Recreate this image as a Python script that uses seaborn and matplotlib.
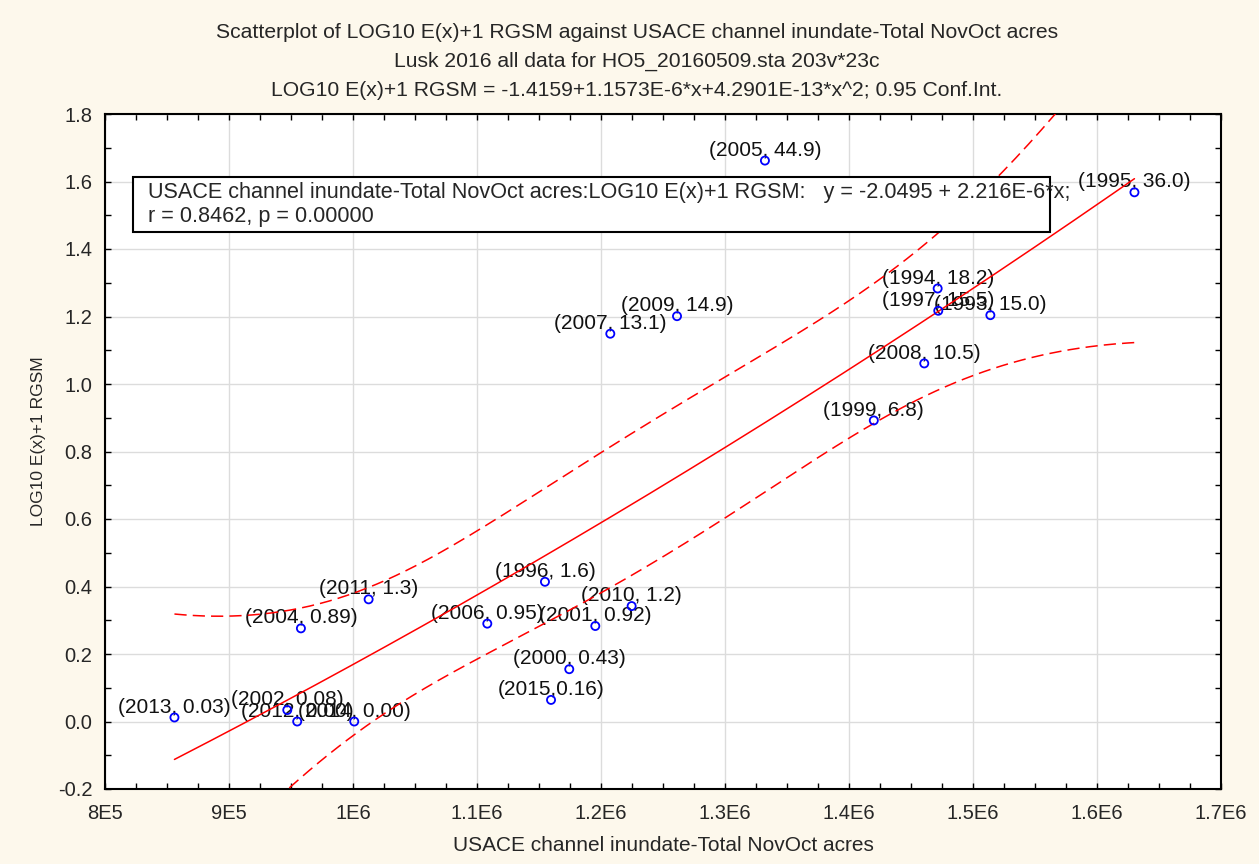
import numpy as np
import pandas as pd
import matplotlib
matplotlib.use("Agg")
import matplotlib.pyplot as plt
from matplotlib.ticker import MultipleLocator, FixedLocator, FixedFormatter
from matplotlib.patches import Rectangle
import seaborn as sns

sns.set_style("ticks")
plt.rcParams['font.family'] = ['Liberation Sans', 'DejaVu Sans']


# DATA

years = [2013, 2002, 2012, 2014, 2004, 2011, 2006, 1996, 2010, 2001, 2000,
         2015, 2007, 2009, 2005, 1994, 1997, 1993, 2008, 1999, 1995]

acres = [856000, 947000, 955000, 1001000, 958000, 1012600, 1108300, 1154800,
         1224700, 1195400, 1174400, 1159700, 1207500, 1261300, 1332200,
         1471500, 1472000, 1514000, 1460700, 1420000, 1630200]

log_rgsm = [0.012, 0.034, 0.0, 0.0, 0.276, 0.362, 0.290, 0.414, 0.342, 0.283,
            0.155, 0.064, 1.149, 1.201, 1.662, 1.283, 1.217, 1.204, 1.061,
            0.892, 1.568]

point_labels = ["(2013, 0.03)", "(2002, 0.08)", "(2012, 0.00)", "(2014, 0.00)",
                "(2004, 0.89)", "(2011, 1.3)", "(2006, 0.95)", "(1996, 1.6)",
                "(2010, 1.2)", "(2001, 0.92)", "(2000, 0.43)", "(2015,0.16)",
                "(2007, 13.1)", "(2009, 14.9)", "(2005, 44.9)", "(1994, 18.2)",
                "(1997, 15.5)", "(1993, 15.0)", "(2008, 10.5)", "(1999, 6.8)",
                "(1995, 36.0)"]

xtick_vals = [8e5, 9e5, 1e6, 1.1e6, 1.2e6, 1.3e6, 1.4e6, 1.5e6, 1.6e6, 1.7e6]
xtick_labels = ["8E5", "9E5", "1E6", "1.1E6", "1.2E6", "1.3E6", "1.4E6",
                "1.5E6", "1.6E6", "1.7E6"]
ytick_vals = [-0.2, 0.0, 0.2, 0.4, 0.6, 0.8, 1.0, 1.2, 1.4, 1.6, 1.8]
ytick_labels = ["-0.2", "0.0", "0.2", "0.4", "0.6", "0.8", "1.0", "1.2",
                "1.4", "1.6", "1.8"]

title_lines = [
    "Scatterplot of LOG10 E(x)+1 RGSM against USACE channel inundate-Total NovOct acres",
    "Lusk 2016 all data for HO5_20160509.sta 203v*23c",
    "LOG10 E(x)+1 RGSM = -1.4159+1.1573E-6*x+4.2901E-13*x^2; 0.95 Conf.Int.",
]
box_lines = [
    "USACE channel inundate-Total NovOct acres:LOG10 E(x)+1 RGSM:   y = -2.0495 + 2.216E-6*x;",
    "r = 0.8462, p = 0.00000",
]

df = pd.DataFrame({"year": years, "acres": acres, "logE": log_rgsm,
                   "label": point_labels})


# QUADRATIC FIT + 0.95 CONFIDENCE BAND

u = df["acres"].values / 1e6
y = df["logE"].values
X = np.column_stack([np.ones_like(u), u, u ** 2])
beta, res, rank, sv = np.linalg.lstsq(X, y, rcond=None)
n = len(y)
resid = y - X @ beta
s2 = resid @ resid / (n - 3)
cov = s2 * np.linalg.inv(X.T @ X)
t_crit = 2.1009  # t(0.975, df=18)

ug = np.linspace(u.min(), u.max(), 300)
Xg = np.column_stack([np.ones_like(ug), ug, ug ** 2])
fit = Xg @ beta
se = np.sqrt(np.einsum("ij,jk,ik->i", Xg, cov, Xg))
fit_df = pd.DataFrame({"acres": ug * 1e6, "fit": fit,
                       "lo": fit - t_crit * se, "hi": fit + t_crit * se})


# PLOT

fig = plt.figure(figsize=(12.59, 8.64), dpi=100)
fig.patch.set_facecolor("#fdf8ec")
ax = fig.add_axes([105 / 1259, 75 / 864, 1116 / 1259, 675 / 864])
ax.set_facecolor("white")

ax.set_xlim(8e5, 1.7e6)
ax.set_ylim(-0.2, 1.8)

ax.grid(True, which="major", color="#dcdcdc", linewidth=1.0)
ax.set_axisbelow(True)

sns.lineplot(data=fit_df, x="acres", y="fit", ax=ax, color="red",
             linewidth=1.1, estimator=None, sort=False, zorder=3)
for col in ["lo", "hi"]:
    sns.lineplot(data=fit_df, x="acres", y=col, ax=ax, color="red",
                 linewidth=1.1, estimator=None, sort=False, zorder=3,
                 dashes=False, linestyle=(0, (8, 4)))

sns.scatterplot(data=df, x="acres", y="logE", ax=ax, marker="o", s=34,
                facecolors="none", edgecolor="blue", linewidth=1.3, zorder=4)

for _, row in df.iterrows():
    ax.annotate(row["label"], (row["acres"], row["logE"]), xytext=(0, 3.5),
                textcoords="offset points", ha="center", va="baseline",
                fontsize=15, color="#111111", zorder=2)

# regression info box
ax.add_patch(Rectangle((822600, 1.450), 1562000 - 822600, 0.163,
                       facecolor="white", edgecolor="black", linewidth=1.5,
                       zorder=5))
ax.text(834700, 1.567, box_lines[0], fontsize=15.6, va="center", ha="left",
        zorder=6)
ax.text(834700, 1.495, box_lines[1], fontsize=15.6, va="center", ha="left",
        zorder=6)

# ticks
ax.xaxis.set_major_locator(FixedLocator(xtick_vals))
ax.xaxis.set_major_formatter(FixedFormatter(xtick_labels))
ax.yaxis.set_major_locator(FixedLocator(ytick_vals))
ax.yaxis.set_major_formatter(FixedFormatter(ytick_labels))
ax.xaxis.set_minor_locator(MultipleLocator(2.5e4))
ax.yaxis.set_minor_locator(MultipleLocator(0.1))
ax.tick_params(which="both", direction="in", top=True, right=True,
               length=4, width=1, color="black")
ax.tick_params(axis="x", which="major", pad=11, labelsize=14.5)
ax.tick_params(axis="y", which="major", pad=9, labelsize=14.5)

for sp in ax.spines.values():
    sp.set_linewidth(1.5)
    sp.set_color("black")

ax.set_xlabel("USACE channel inundate-Total NovOct acres", fontsize=15)
ax.xaxis.set_label_coords(0.5, -0.083)
ax.xaxis.label.set_va("center")
ax.set_ylabel("LOG10 E(x)+1 RGSM", fontsize=12.5)
ax.yaxis.set_label_coords(-0.060, 0.515)
ax.yaxis.label.set_va("center")

for i, line in enumerate(title_lines):
    fig.text(637 / 1259, 1 - (32 + 29 * i) / 864, line, ha="center",
             va="center", fontsize=15.2)

fig.savefig("out.png", dpi=100, facecolor=fig.get_facecolor())
